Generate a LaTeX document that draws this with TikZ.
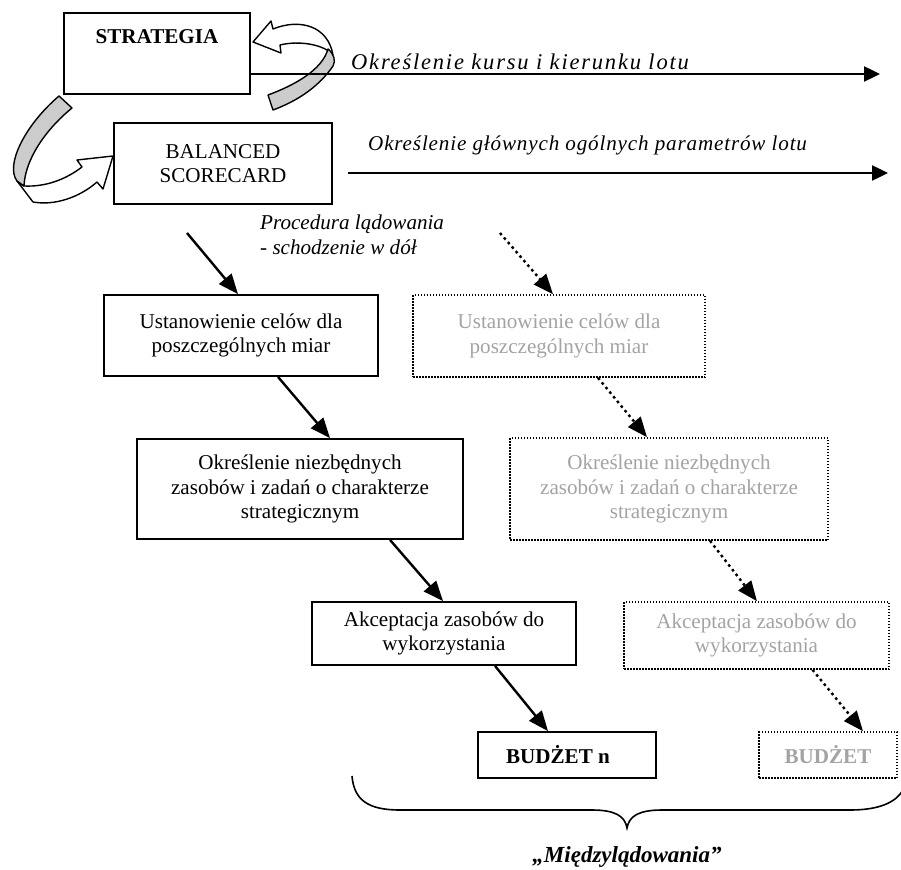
\documentclass[tikz,border=0pt]{standalone}
\usepackage{fontspec}
\setmainfont{Liberation Serif}
\usetikzlibrary{arrows.meta,calc}
\definecolor{ghost}{gray}{0.64}
\definecolor{fold}{gray}{0.8}
\begin{document}
\begin{tikzpicture}[x=1pt,y=-1pt,
  txt/.style={font=\fontsize{21.1}{24.3}\selectfont},
  lbl/.style={font=\fontsize{21.1}{24.3}\selectfont\itshape, inner sep=0pt},
  box/.style={txt, draw, line width=1.8pt, inner sep=0pt, align=center},
  ghostbox/.style={box, dash pattern=on 1.5pt off 1.5pt, line width=1.6pt, text=ghost},
  flow/.style={line width=2.4pt, -{Triangle[length=20pt,width=16pt]}},
  ghostflow/.style={flow, dash pattern=on 2.6pt off 3.4pt},
  level/.style={line width=2.4pt, -{Triangle[length=16pt,width=15pt]}},
  ribbon/.style={line width=1.4pt, line join=round}]
\useasboundingbox (0,0) rectangle (901,869);

% curved ribbon arrows between the two top boxes
\draw[ribbon, fill=white] (17,181) -- (33,202) .. controls (55,206) and (80,197) .. (97,182)
  -- (103,189) -- (113,156) -- (77,160) -- (82,167)
  .. controls (65,180) and (45,187) .. (24,186) -- cycle;
\draw[ribbon, fill=fold] (59,96) .. controls (25,125) and (5,165) .. (17,181) -- (24,186)
  .. controls (25,160) and (45,130) .. (72,108) -- cycle;

\draw[ribbon, fill=white] (253,42) -- (271,21) -- (273,29)
  .. controls (300,18) and (328,26) .. (333,55)
  .. controls (325,45) and (300,40) .. (280,45) -- (281,53) -- cycle;
\draw[ribbon, fill=fold] (268,95) .. controls (295,85) and (322,70) .. (328,49)
  .. controls (334,54) and (336,61) .. (333,66)
  .. controls (320,85) and (300,100) .. (273,110) -- cycle;

% main boxes
\node[box, minimum width=186pt, text height=31pt, text depth=50pt] (strat) at (157,53.5) {\textbf{STRATEGIA}};
\node[box, minimum width=218pt, minimum height=81pt] (bsc) at (223,163.5) {BALANCED\\SCORECARD};
\node[box, minimum width=274pt, minimum height=81pt] (ust) at (241,335.5) {Ustanowienie celów dla\\poszczególnych miar};
\node[box, minimum width=326pt, minimum height=100pt] (okr) at (300,489) {Określenie niezbędnych\\zasobów i zadań o charakterze\\strategicznym};
\node[box, minimum width=264pt, minimum height=63pt] (akc) at (444,633.5) {Akceptacja zasobów do\\wykorzystania};
\node[box, minimum width=178pt, minimum height=46pt] (bud) at (567,755) {\textbf{BUDŻET n}\hspace*{18pt}};

% faded second path
\node[ghostbox, minimum width=292pt, minimum height=82pt] (ustD) at (559,336) {Ustanowienie celów dla\\poszczególnych miar};
\node[ghostbox, minimum width=318pt, minimum height=102pt] (okrD) at (669,489) {Określenie niezbędnych\\zasobów i zadań o charakterze\\strategicznym};
\node[ghostbox, minimum width=265pt, minimum height=67pt] (akcD) at (756.5,635.5) {Akceptacja zasobów do\\wykorzystania};
\node[ghostbox, minimum width=138pt, minimum height=46pt] (budD) at (828,755) {\textbf{BUDŻET}};

% horizontal flight lines
\coordinate (kursEnd) at (880,74);
\coordinate (parStart) at (348,173);
\coordinate (parEnd) at (888,173);
\draw[level] ([yshift=-20.5pt]strat.east) -- (kursEnd);
\draw[level] (parStart) -- (parEnd);
\node[lbl, font=\fontsize{22.5}{26}\selectfont\itshape, anchor=base west] (kurs) at (351,70) {\addfontfeature{LetterSpace=8}Określenie kursu i kierunku lotu};
\node[lbl, anchor=base west] (param) at (368,150) {\addfontfeature{LetterSpace=4}Określenie głównych ogólnych parametrów lotu};

% landing procedure label
\node[lbl, anchor=base west] (proc1) at (260,229) {Procedura lądowania};
\node[lbl, anchor=base west] (proc2) at (260,254) {- schodzenie w dół};

% descent arrows
\coordinate (solidStart) at (187,233);
\coordinate (ghostStart) at (500,233);
\draw[flow] (solidStart) -- ([xshift=-3pt]ust.north);
\draw[flow] ([xshift=37pt]ust.south) -- ([xshift=30pt]okr.north);
\draw[flow] ([xshift=90pt]okr.south) -- ([xshift=-1pt]akc.north);
\draw[flow] ([xshift=51pt]akc.south) -- ([xshift=-19pt]bud.north);

\draw[ghostflow] (ghostStart) -- ([xshift=-6pt]ustD.north);
\draw[ghostflow] ([xshift=39pt]ustD.south) -- ([xshift=-22pt]okrD.north);
\draw[ghostflow] ([xshift=41pt]okrD.south) -- ([xshift=0.5pt]akcD.north);
\draw[ghostflow] ([xshift=56pt]akcD.south) -- ([xshift=35pt]budD.north);

% brace under the budgets
\draw[line width=1.6pt] (352,776) .. controls (354,800) and (368,810) .. (400,810) -- (592,810)
  .. controls (615,810) and (625,816) .. (627,828)
  .. controls (629,816) and (639,810) .. (662,810) -- (850,810)
  .. controls (880,810) and (896,802) .. (903,790);
\node[font=\fontsize{23}{27}\selectfont\bfseries\itshape, inner sep=0pt, anchor=base] (inter) at (627,862) {„Międzylądowania”};
\end{tikzpicture}
\end{document}
